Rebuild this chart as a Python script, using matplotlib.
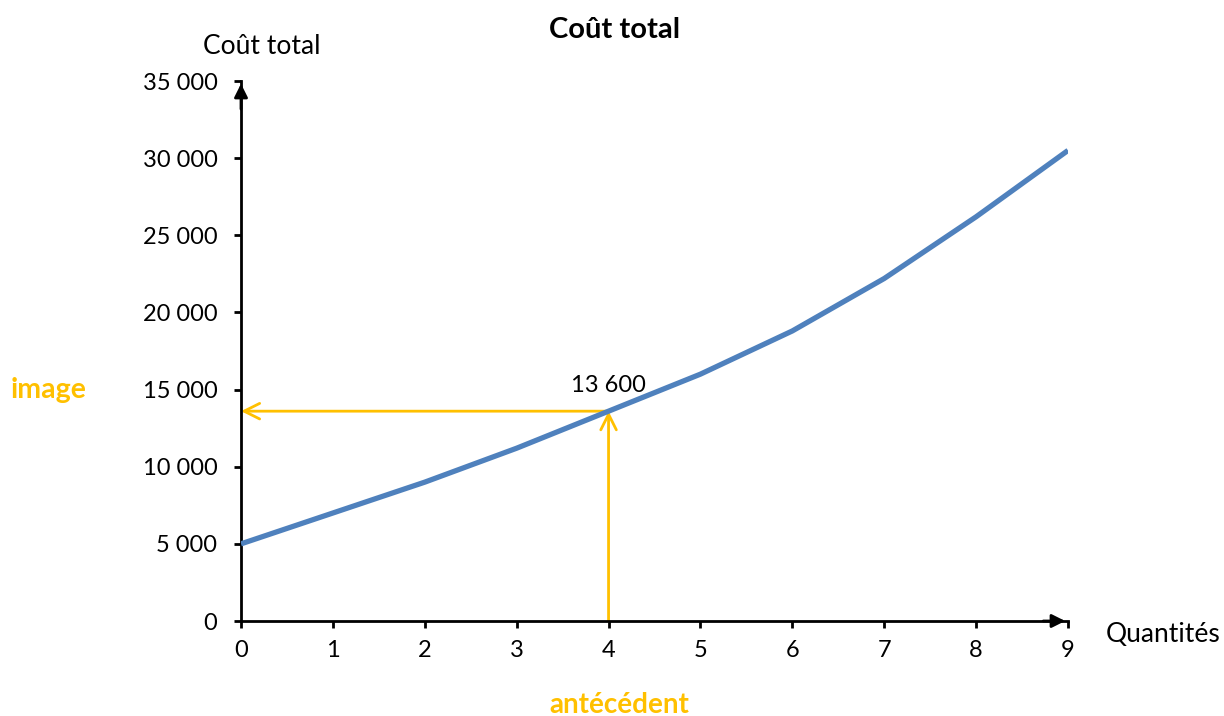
import matplotlib.pyplot as plt
from matplotlib.ticker import FuncFormatter

plt.rcParams['font.family'] = ['Lato', 'DejaVu Sans']

# === Données ===
quantites = [0, 1, 2, 3, 4, 5, 6, 7, 8, 9]
cout_total = [5000, 7000, 9000, 11200, 13600, 16000, 18800, 22200, 26200, 30500]
q_point = 4
c_point = 13600
y_ticks = [0, 5000, 10000, 15000, 20000, 25000, 30000, 35000]

orange = "#FFC000"
bleu = "#4F81BD"

fig = plt.figure(figsize=(12.24, 7.16), dpi=100)
ax = fig.add_axes([241 / 1224, 1 - 621 / 716, (1068 - 241) / 1224, (621 - 81) / 716])

ax.plot(quantites, cout_total, color=bleu, linewidth=3.8, solid_capstyle="butt", zorder=3)

ax.set_xlim(0, 9)
ax.set_ylim(0, 35000)
ax.set_xticks(quantites)
ax.set_yticks(y_ticks)
ax.yaxis.set_major_formatter(FuncFormatter(lambda v, p: f"{int(v):,}".replace(",", " ")))
ax.tick_params(axis="both", labelsize=17, width=2, length=5, direction="out")
ax.tick_params(axis="y", pad=12)
ax.tick_params(axis="x", pad=9)

for s in ["top", "right"]:
    ax.spines[s].set_visible(False)
for s in ["left", "bottom"]:
    ax.spines[s].set_linewidth(2)

# flèches des axes
ax.annotate("", xy=(0, 35000), xytext=(0, 33000),
            arrowprops=dict(arrowstyle="-|>", color="black", lw=2, mutation_scale=20),
            annotation_clip=False)
ax.annotate("", xy=(9, 0), xytext=(8.7, 0),
            arrowprops=dict(arrowstyle="-|>", color="black", lw=2, mutation_scale=20),
            annotation_clip=False)

# image / antécédent
ax.annotate("", xy=(0, c_point), xytext=(q_point, c_point),
            arrowprops=dict(arrowstyle="->", color=orange, lw=2, mutation_scale=28,
                            shrinkA=0, shrinkB=0), zorder=2)
ax.annotate("", xy=(q_point, c_point), xytext=(q_point, 0),
            arrowprops=dict(arrowstyle="->", color=orange, lw=2, mutation_scale=28,
                            shrinkA=0, shrinkB=0), zorder=2)

ax.text(q_point, c_point + 1000, "13 600", fontsize=17, ha="center", va="bottom")

fig.text(615 / 1224, 1 - 30 / 716, "Coût total", fontsize=21, fontweight="bold", ha="center", va="center")
fig.text(262 / 1224, 1 - 46 / 716, "Coût total", fontsize=19, ha="center", va="center")
fig.text(1163 / 1224, 1 - 635 / 716, "Quantités", fontsize=19, ha="center", va="center")
fig.text(49 / 1224, 1 - 390 / 716, "image", fontsize=20.5, fontweight="bold", color=orange, ha="center", va="center")
fig.text(619 / 1224, 1 - 705 / 716, "antécédent", fontsize=20, fontweight="bold", color=orange, ha="center", va="center")

fig.savefig("out.png", dpi=100)
